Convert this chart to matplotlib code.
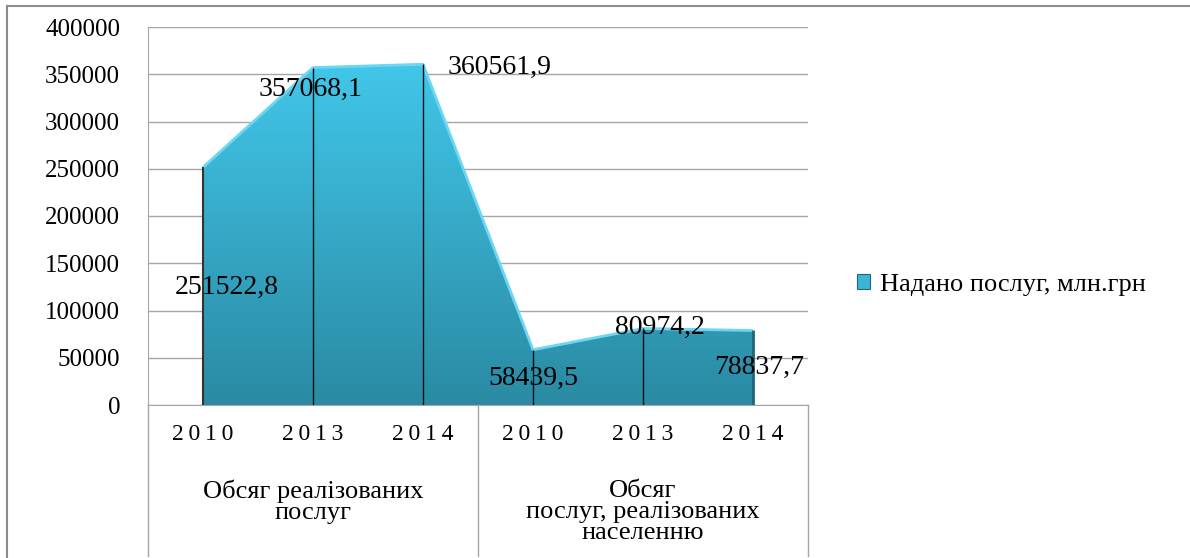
import numpy as np
import matplotlib
matplotlib.use("Agg")
import matplotlib.pyplot as plt
from matplotlib.patches import Patch
from matplotlib.lines import Line2D

# дані
years = ["2010", "2013", "2014", "2010", "2013", "2014"]
groups = ["Обсяг реалізованих\nпослуг", "Обсяг\nпослуг, реалізованих\nнаселенню"]
values = [251522.8, 357068.1, 360561.9, 58439.5, 80974.2, 78837.7]
value_labels = ["251522,8", "357068,1", "360561,9", "58439,5", "80974,2", "78837,7"]
# де стоять підписи (x, y в даних)
label_x = [0.22, 0.98, 2.70, 3.00, 4.15, 5.06]
label_y = [124900, 334400, 357700, 28600, 82500, 40200]
series_name = "Надано послуг, млн.грн"

plt.rcParams['font.family'] = ['Liberation Serif', 'DejaVu Serif']

fig = plt.figure(figsize=(11.9, 5.58), dpi=100)
ax = fig.add_axes([148 / 1190, 1 - 405 / 558, 660 / 1190, 378 / 558])

x = np.arange(len(values))
ax.set_xlim(-0.5, len(values) - 0.5)
ax.set_ylim(0, 400000)

# площа з градієнтом
poly = ax.fill_between(x, values, 0, facecolor='none', edgecolor='none', zorder=2)
grad = np.linspace(1, 0, 256).reshape(-1, 1)
top_c = np.array([66, 200, 235]) / 255
bot_c = np.array([42, 138, 163]) / 255
img = top_c * grad[..., None] + bot_c * (1 - grad[..., None])
im = ax.imshow(img, extent=[0, 5, 0, 370000], aspect='auto', origin='upper', zorder=2)
im.set_clip_path(poly.get_paths()[0], transform=ax.transData)

# світла кромка зверху
ax.plot(x, values, color='#6fd6f2', lw=2, zorder=3, solid_capstyle='butt')
# вертикальні лінії
ax.vlines(x[1:-1], 0, values[1:-1], color='#111111', lw=1, zorder=4)
ax.vlines([x[0]], 0, [values[0]], color='#333333', lw=1.5, zorder=4)
ax.vlines([x[-1]], 0, [values[-1]], color='#1f6678', lw=2, zorder=4)

# сітка
ax.set_yticks(np.arange(0, 400001, 50000))
ax.grid(axis='y', color='#a6a6a6', lw=1, zorder=1)
ax.tick_params(axis='y', length=0, pad=20, labelsize=18)
ax.tick_params(axis='x', length=0, labelbottom=False)
for s in ['top', 'right']:
    ax.spines[s].set_visible(False)
ax.spines['left'].set_color('#a6a6a6')
ax.spines['bottom'].set_color('#a6a6a6')

# підписи значень
for lx, ly, t in zip(label_x, label_y, value_labels):
    ax.text(lx, ly, t, ha='center', va='center', fontsize=20, zorder=5)

# таблиця категорій
tr = ax.get_xaxis_transform()
for xv in [-0.5, 2.5, 5.5]:
    ax.plot([xv, xv], [0, -0.40], color='#a6a6a6', lw=1, transform=tr, clip_on=False)
for xi, yr in zip(x, years):
    ax.text(xi, -0.079, '\u2009'.join(yr), ha='center', va='center', fontsize=17,
            transform=tr)
ax.text(1, -0.257, groups[0], ha='center', va='center', fontsize=19,
        linespacing=0.95, transform=tr)
ax.text(4, -0.283, groups[1], ha='center', va='center', fontsize=19,
        linespacing=0.95, transform=tr)

# легенда
handle = Patch(facecolor='#3bb6d8', edgecolor='#1f6678', lw=0.8)
fig.legend([handle], [series_name], loc='center left',
           bbox_to_anchor=(833 / 1190, 1 - 285 / 558), frameon=False,
           fontsize=19, handlelength=0.5, handleheight=0.5, handletextpad=0.4)

# рамка
fig.add_artist(Line2D([7 / 1190, 1], [1 - 6 / 558] * 2, color='#8c8c8c', lw=1.5))
fig.add_artist(Line2D([7 / 1190] * 2, [0, 1 - 6 / 558], color='#8c8c8c', lw=1.5))

fig.savefig('out.png', dpi=100)
